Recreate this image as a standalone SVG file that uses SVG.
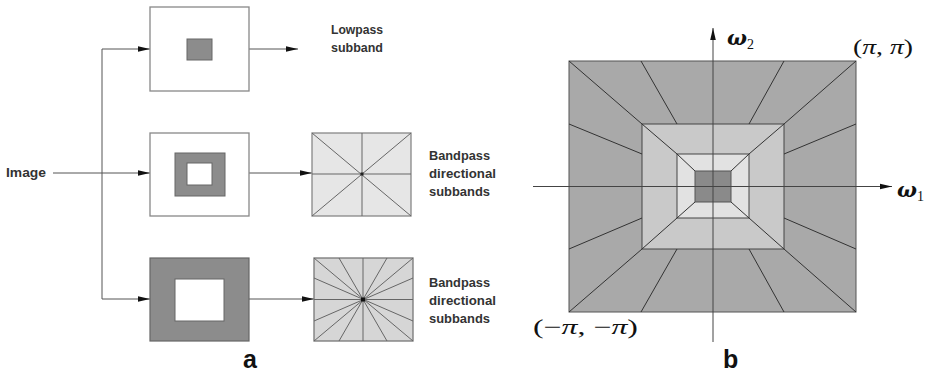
<svg xmlns="http://www.w3.org/2000/svg" width="930" height="376" viewBox="0 0 930 376">
<defs>
<marker id="ah" markerWidth="12" markerHeight="8" refX="12" refY="4" orient="auto" markerUnits="userSpaceOnUse">
<path d="M0,1.2 L12,4 L0,6.8 Z" fill="#111"/>
</marker>
<style>
.lbl{font-family:"Liberation Sans",Arial,sans-serif;font-weight:bold;font-size:12px;fill:#333}
.cap{font-family:"Liberation Sans",Arial,sans-serif;font-weight:bold;font-size:25px;fill:#111}
.math{font-family:"Liberation Serif","DejaVu Serif",serif;font-size:21px;fill:#111}
.mi{font-style:italic}
.om{font-family:"DejaVu Serif",serif;font-style:italic;font-weight:bold;font-size:21px;fill:#111}
.sub{font-family:"Liberation Serif",serif;font-size:14px;fill:#111}
.box{fill:#fff;stroke:#888;stroke-width:1.3}
.dark{fill:#8c8c8c;stroke:#666;stroke-width:1}
.conn{stroke:#555;stroke-width:1;fill:none}
.ln{stroke:#666;stroke-width:1;fill:none}
.ln2{stroke:#333;stroke-width:1;fill:none}
</style>
</defs>
<rect width="930" height="376" fill="#fff"/>
<g id="connectors">
<path class="conn" d="M53,173 L150,173" marker-end="url(#ah)"/>
<path class="conn" d="M102,49 L102,299"/>
<path class="conn" d="M102,49 L150,49" marker-end="url(#ah)"/>
<path class="conn" d="M102,299 L150,299" marker-end="url(#ah)"/>
<path class="conn" d="M249,49 L298,49" marker-end="url(#ah)"/>
<path class="conn" d="M249,173 L312,173" marker-end="url(#ah)"/>
<path class="conn" d="M249,299 L314,299" marker-end="url(#ah)"/>
</g>
<g id="image-label"><text class="lbl" x="6" y="177" textLength="40" lengthAdjust="spacingAndGlyphs">Image</text></g>
<g id="lowpass-filter">
<rect class="box" x="150" y="7" width="99" height="84"/>
<rect class="dark" x="187" y="39" width="25" height="21"/>
</g>
<g id="lowpass-label"><text class="lbl" x="331" y="34" textLength="52" lengthAdjust="spacingAndGlyphs">Lowpass</text><text class="lbl" x="331" y="52" textLength="52" lengthAdjust="spacingAndGlyphs">subband</text></g>
<g id="bandpass-filter-1">
<rect class="box" x="150" y="133" width="99" height="83"/>
<rect class="dark" x="175" y="153" width="50" height="43"/>
<rect fill="#fff" stroke="#666" stroke-width="1" x="187" y="163" width="25" height="22"/>
</g>
<g id="bandpass-filter-2">
<rect fill="#8c8c8c" stroke="#666" stroke-width="1.2" x="150" y="258" width="99" height="83"/>
<rect fill="#fff" stroke="#666" stroke-width="1" x="175" y="279" width="49" height="42"/>
</g>
<g id="directional-1">
<rect fill="#e6e6e6" stroke="#888" stroke-width="1.3" x="312" y="133" width="99" height="83"/>
<path class="ln" d="M362,133 L362,216 M312,174 L411,174 M312,133 L411,216 M411,133 L312,216"/>
<rect x="360.5" y="172.5" width="3" height="3" fill="#222"/>
</g>
<g id="directional-1-label"><text class="lbl" x="429" y="160" textLength="61" lengthAdjust="spacingAndGlyphs">Bandpass</text><text class="lbl" x="429" y="178" textLength="67" lengthAdjust="spacingAndGlyphs">directional</text><text class="lbl" x="429" y="196" textLength="61" lengthAdjust="spacingAndGlyphs">subbands</text></g>
<g id="directional-2">
<rect fill="#d6d6d6" stroke="#777" stroke-width="1.3" x="314" y="258" width="99" height="83"/>
<path class="ln" d="M363,258 L363,341 M314,299.5 L413,299.5 M314,258 L413,341 M413,258 L314,341 M339,258 L387,341 M387,258 L339,341 M314,278 L413,321 M314,321 L413,278"/>
<rect x="361" y="297.5" width="4" height="4" fill="#111"/>
</g>
<g id="directional-2-label"><text class="lbl" x="429" y="287" textLength="61" lengthAdjust="spacingAndGlyphs">Bandpass</text><text class="lbl" x="429" y="305" textLength="67" lengthAdjust="spacingAndGlyphs">directional</text><text class="lbl" x="429" y="323" textLength="61" lengthAdjust="spacingAndGlyphs">subbands</text></g>
<g id="caption-a"><text class="cap" x="243" y="368">a</text></g>
<g id="frequency-partition">
<rect fill="#a9a9a9" stroke="#555" stroke-width="1" x="569" y="61" width="287" height="251"/>
<rect fill="#c9c9c9" stroke="#444" stroke-width="1" x="642" y="124" width="142" height="125"/>
<rect fill="#e2e2e2" stroke="#444" stroke-width="1" x="677" y="154" width="72" height="64"/>
<rect fill="#8a8a8a" stroke="#555" stroke-width="1" x="695" y="171" width="36" height="31"/>
<path class="ln2" d="M569,61 L642,124 M856,61 L784,124 M569,312 L642,249 M856,312 L784,249
M641,61 L677,124 M784,61 L749,124 M641,312 L677,249 M784,312 L749,249
M569,124 L642,154 M569,249 L642,218 M856,124 L784,154 M856,249 L784,218
M642,124 L677,154 M784,124 L749,154 M642,249 L677,218 M784,249 L749,218
M677,154 L695,171 M749,154 L731,171 M677,218 L695,202 M749,218 L731,202"/>
</g>
<g id="axes">
<path stroke="#444" stroke-width="1" d="M533,186.5 L892,186.5" marker-end="url(#ah)"/>
<path stroke="#444" stroke-width="1" d="M713,342 L713,28" marker-end="url(#ah)"/>
</g>
<g id="axis-labels">
<text x="727" y="45"><tspan class="om">ω</tspan><tspan class="sub" dy="4">2</tspan></text>
<text x="897" y="197"><tspan class="om">ω</tspan><tspan class="sub" dy="4">1</tspan></text>
<text class="math" x="853" y="54" textLength="60" lengthAdjust="spacingAndGlyphs">(<tspan class="mi">π</tspan>, <tspan class="mi">π</tspan>)</text>
<text class="math" x="533" y="334" textLength="105" lengthAdjust="spacingAndGlyphs">(−<tspan class="mi">π</tspan>, −<tspan class="mi">π</tspan>)</text>
</g>
<g id="caption-b"><text class="cap" x="723" y="368">b</text></g>
</svg>
